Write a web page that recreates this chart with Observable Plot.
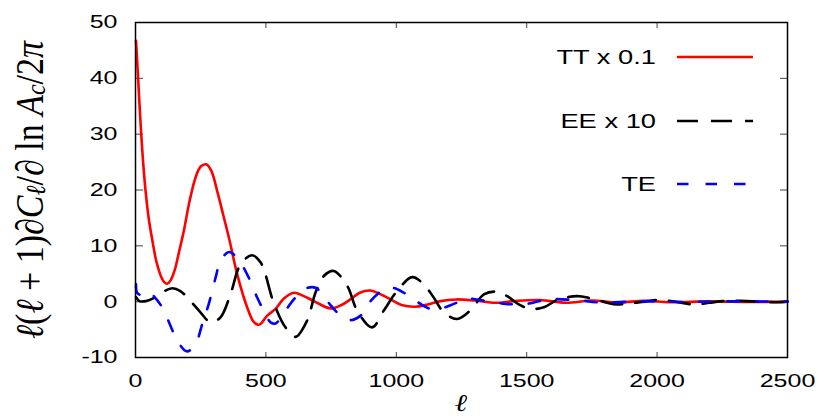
<!DOCTYPE html>
<html><head><meta charset="utf-8">
<script src="https://cdn.jsdelivr.net/npm/d3@7"></script>
<script src="https://cdn.jsdelivr.net/npm/@observablehq/plot@0.6"></script>
<style>body{margin:0;background:#fff;} #chart svg{display:block;}</style>
</head><body><div id="chart"></div>
<script>
// ---- data ----
const ttEll = [2,10,20,30,40,51,66,80,100,110,121,133,150,165,185,205,230,250,271,290,315,335,360,390,428,450,467,479,505,537,570,607,645,684,748,790,824,860,901,940,978,1020,1074,1120,1169,1230,1300,1380,1450,1550,1650,1750,1850,1950,2050,2200,2350,2500];
const ttVal = [46.7,40.0,31.5,24.5,19.2,14.8,10.6,7.2,4.3,3.5,3.2,3.7,5.6,8.5,12.6,17.5,22.2,24.2,24.6,23.5,19.5,15.8,11.1,4.9,-1.0,-3.4,-4.1,-4.0,-2.5,-1.3,0.6,1.6,1.0,0.1,-1.2,-0.6,0.4,1.6,2.0,1.3,0.4,-0.6,-0.9,-0.5,0.1,0.4,0.2,-0.2,0.1,0.3,-0.2,0.2,-0.15,0.15,-0.1,0.05,-0.05,0.0];

const eeEll = [2,15,40,64,100,141,172,211,249,288,326,364,403,447,480,530,575,614,658,690,722,760,812,850,907,952,1003,1061,1105,1144,1182,1233,1285,1336,1380,1425,1470,1515,1566,1617,1693,1745,1809,1847,1900,1962,2007,2070,2141,2200,2250,2320,2400,2460,2500];
const eeVal = [0.8,0.1,0.1,0.5,1.6,2.4,1.9,0.1,-1.9,-3.7,-2.8,1.3,6.7,8.3,7.0,-0.2,-4.6,-6.3,-3.4,1.6,4.6,5.5,2.8,-1.6,-4.6,-1.6,1.9,4.4,3.1,0.7,-1.9,-3.1,-1.5,1.3,1.8,1.0,-0.5,-1.3,-1.0,0.3,1.0,0.6,-0.2,-0.5,-0.3,0.1,0.3,0.0,-0.5,-0.2,0.1,0.15,0.0,-0.1,0.0];

const teEll = [2,6,20,32,51,70,102,134,160,198,230,256,281,307,326,358,390,428,467,498,518,537,575,607,645,690,735,780,824,863,901,952,984,1029,1067,1125,1163,1210,1246,1272,1320,1361,1420,1464,1489,1585,1681,1790,1898,2000,2100,2250,2500];
const teVal = [3.1,1.6,1.2,1.3,1.8,1.0,-1.0,-4.3,-7.0,-8.9,-7.6,-4.0,-0.4,4.3,7.3,8.9,7.8,4.9,0.7,-2.2,-3.7,-3.9,-1.6,0.4,2.2,2.5,0.1,-2.2,-3.3,-2.5,0.1,2.2,2.5,1.6,0.4,-1.2,-1.3,-0.6,0.1,0.55,0.3,0.0,-0.4,-0.5,-0.5,0.4,0.3,-0.15,0.0,0.1,-0.05,0.05,0.0];

const xTicks = [0,500,1000,1500,2000,2500];
const yTicks = [-10,0,10,20,30,40,50];
const seriesNames = ["TT x 0.1","EE x 10","TE"];
const seriesColors = ["#ff0000","#000000","#0000ff"];
const seriesDash = [null,"21,13","11.5,17"];

const tt = ttEll.map((l,i)=>({l, v: ttVal[i]}));
const ee = eeEll.map((l,i)=>({l, v: eeVal[i]}));
const te = teEll.map((l,i)=>({l, v: teVal[i]}));

const W = 824, H = 418;
const plot = Plot.plot({
  width: W, height: H,
  marginLeft: 135, marginRight: 37, marginTop: 22, marginBottom: 61,
  style: {fontFamily: "'Liberation Sans', Arial, sans-serif", fontSize: "18.5px", background: "#fff", color: "#000"},
  x: {domain: [0,2500]},
  y: {domain: [-10,50]},
  marks: [
    Plot.axisX(xTicks, {anchor: "bottom", tickSize: -5, tickPadding: 21, tickFormat: d => String(d), label: null, stroke: "#444"}),
    Plot.axisX(xTicks, {anchor: "top", tickSize: -5, tickFormat: () => "", label: null, stroke: "#444"}),
    Plot.axisY(yTicks, {anchor: "left", tickSize: -8, tickPadding: 26, tickFormat: d => String(d), label: null, stroke: "#444"}),
    Plot.axisY(yTicks, {anchor: "right", tickSize: -8, tickFormat: () => "", label: null, stroke: "#444"}),
    Plot.line(tt, {x: "l", y: "v", stroke: seriesColors[0], strokeWidth: 2.6, curve: "catmull-rom"}),
    Plot.line(ee, {x: "l", y: "v", stroke: seriesColors[1], strokeWidth: 2.6, strokeDasharray: seriesDash[1], curve: "catmull-rom"}),
    Plot.line(te, {x: "l", y: "v", stroke: seriesColors[2], strokeWidth: 2.6, strokeDasharray: seriesDash[2], curve: "catmull-rom"}),
    Plot.frame({stroke: "#000", strokeWidth: 1.5})
  ]
});
document.getElementById("chart").appendChild(plot);

const S = 1.35; // horizontal stretch of the reference typography
const svg = d3.select(plot);
plot.querySelectorAll('g[aria-label$="tick label"] text').forEach(t => {
  const tr = t.getAttribute("transform");
  if (tr) t.setAttribute("transform", tr + ` scale(${S},1)`);
  else {
    const x = +t.getAttribute("x") || 0;
    t.setAttribute("transform", `translate(${x},0) scale(${S},1) translate(${-x},0)`);
  }
});

// legend (inside the frame, top right)
const legY = [57, 121, 184];
const leg = svg.append("g").attr("class", "legend");
seriesNames.forEach((name, i) => {
  leg.append("text")
    .attr("transform", `translate(656,${legY[i]}) scale(1.3,1)`)
    .attr("text-anchor", "end").attr("dominant-baseline", "central")
    .attr("font-family", "'Liberation Sans', Arial, sans-serif").attr("font-size", 21)
    .attr("fill", "#000").text(name);
  leg.append("line")
    .attr("x1", 677).attr("x2", 753).attr("y1", legY[i]).attr("y2", legY[i])
    .attr("stroke", seriesColors[i]).attr("stroke-width", 2.6)
    .attr("stroke-dasharray", seriesDash[i]);
});

// y-axis label (LaTeX-like)
const yl = svg.append("text")
  .attr("transform", `translate(29,190) scale(1.15,1) rotate(-90)`)
  .attr("text-anchor", "middle").attr("dominant-baseline", "central")
  .attr("font-family", "'Liberation Serif', 'DejaVu Serif', serif").attr("font-size", 34)
  .attr("fill", "#000");
const parts = [
  ["ℓ", "italic"], ["(", "normal"], ["ℓ", "italic"], [" + 1)∂", "normal"], ["C", "italic"],
  ["ℓ", "italic", "sub"], ["/∂ ln ", "normal"], ["A", "italic"], ["c", "italic", "sub"], ["/2", "normal"], ["π", "italic"]
];
parts.forEach(([s, st, sub]) => {
  const ts = yl.append("tspan").attr("font-style", st).text(s);
  if (sub) ts.attr("font-size", 24).attr("baseline-shift", "-25%");
});

// x-axis label
svg.append("text")
  .attr("transform", `translate(461,403) scale(1.25,1)`)
  .attr("text-anchor", "middle").attr("dominant-baseline", "central")
  .attr("font-family", "'Liberation Serif', 'DejaVu Serif', serif").attr("font-size", 24)
  .attr("font-style", "italic").attr("fill", "#000").text("ℓ");
</script></body></html>
